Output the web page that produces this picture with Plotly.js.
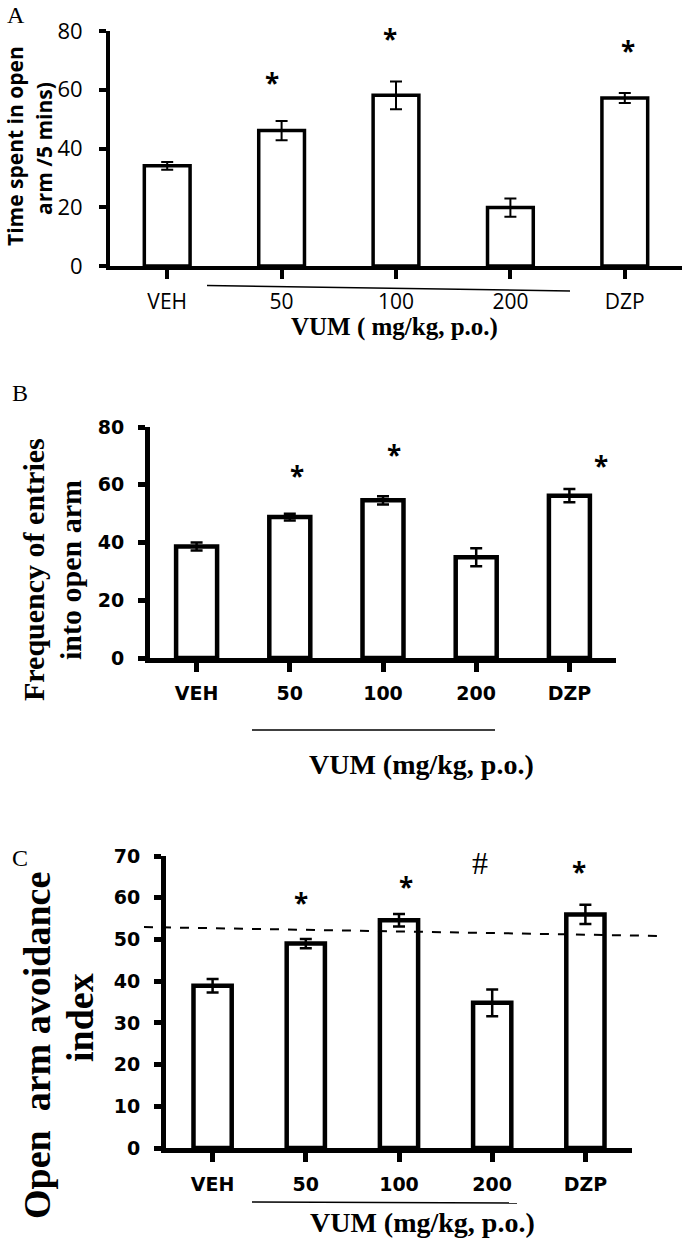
<!DOCTYPE html>
<html>
<head>
<meta charset="utf-8">
<script src="https://cdn.plot.ly/plotly-3.0.1.min.js"></script>
<style>html,body{margin:0;padding:0;background:#fff;} #chart{width:685px;height:1254px;}</style>
</head>
<body>
<div id="chart"></div>
<script>
// ---- data ----
const categories = ['VEH', '50', '100', '200', 'DZP'];

const timeOpen     = [34.1, 46.1, 58.1, 19.9, 57.2];
const timeOpenErr  = [1.3, 3.3, 4.7, 3.1, 1.7];
const sigA         = ['', '*', '*', '', '*'];
const sigAY        = [null, 64, 79, null, 75];

const entries      = [38.6, 48.8, 54.6, 34.9, 56.2];
const entriesErr   = [1.4, 1.2, 1.4, 3.1, 2.3];
const sigB         = ['', '*', '*', '', '*'];
const sigBY        = [null, 64.7, 72, null, 68.2];

const avoidance    = [38.9, 49.0, 54.6, 34.8, 56.0];
const avoidanceErr = [1.6, 1.1, 1.5, 3.2, 2.3];
const sigC         = ['', '*', '*', '#', '*'];
const sigCY        = [null, 60, 63.8, 68.3, 67.4];

const yTicksA = [0, 20, 40, 60, 80];
const yTicksB = [0, 20, 40, 60, 80];
const yTicksC = [0, 10, 20, 30, 40, 50, 60, 70];

// ---- layout helpers ----
const W = 685, H = 1254;
const px = v => v / W;
const py = v => 1 - v / H;
const idx = categories.map((c, i) => i);

function barTrace(vals, errs, xa, ya, lw, ew, bw) {
  return {
    type: 'bar', x: idx, y: vals, xaxis: xa, yaxis: ya, width: bw,
    marker: {color: '#ffffff', line: {color: '#000000', width: lw}},
    error_y: {type: 'data', array: errs, visible: true, color: '#000', thickness: ew, width: 6},
    cliponaxis: false, hoverinfo: 'skip', showlegend: false
  };
}

const data = [
  barTrace(timeOpen, timeOpenErr, 'x', 'y', 3.5, 2, 0.40),
  barTrace(entries, entriesErr, 'x2', 'y2', 4.5, 2.5, 0.44),
  barTrace(avoidance, avoidanceErr, 'x3', 'y3', 4.5, 2.5, 0.41)
];

function xAxis(domain, anchor, lw, font, standoff) {
  return {
    domain: domain, anchor: anchor, range: [-0.5, 4.5],
    tickmode: 'array', tickvals: idx, ticktext: categories, tickson: 'boundaries',
    ticks: 'outside', ticklen: 9, tickwidth: lw, tickcolor: '#000',
    showline: true, linecolor: '#000', linewidth: lw,
    showgrid: false, zeroline: false, tickfont: font, ticklabelstandoff: standoff,
    fixedrange: true
  };
}
function yAxis(domain, anchor, range, tickvals, lw, font, standoff) {
  return {
    domain: domain, anchor: anchor, range: range,
    tickmode: 'array', tickvals: tickvals,
    ticks: 'outside', ticklen: 7, tickwidth: lw, tickcolor: '#000',
    showline: true, linecolor: '#000', linewidth: lw,
    showgrid: false, zeroline: false, tickfont: font, ticklabelstandoff: standoff,
    fixedrange: true
  };
}

const fA = {family: 'Open Sans', size: 22, color: '#000'};
const fAx = {family: 'Open Sans', size: 21, color: '#000'};
const fB = {family: 'DejaVu Sans', size: 19, color: '#000', weight: 'bold'};

const annotations = [];
function sig(labels, ys, xa, ya, shifts, font, hashFont) {
  labels.forEach((t, i) => {
    if (!t) return;
    annotations.push({xref: xa, yref: ya, x: i, y: ys[i], text: t, showarrow: false,
      xanchor: 'center', yanchor: 'middle', xshift: shifts[i], yshift: t === '*' ? -5 : 0,
      font: t === '#' ? hashFont : font});
  });
}
const starFont = {family: 'Open Sans', size: 26, color: '#000', weight: 'bold'};
const hashFont = {family: 'Liberation Serif', size: 32, color: '#000'};
sig(sigA, sigAY, 'x', 'y', [0, -10, -6, 0, 3], starFont, hashFont);
sig(sigB, sigBY, 'x2', 'y2', [0, 7, 11, 0, 32], starFont, hashFont);
sig(sigC, sigCY, 'x3', 'y3', [0, -5, 7, -12, -6], starFont, hashFont);

function txt(x, y, text, font, angle) {
  annotations.push({xref: 'paper', yref: 'paper', x: px(x), y: py(y), text: text, showarrow: false,
    xanchor: 'center', yanchor: 'middle', textangle: angle || 0, font: font});
}
const serifB = s => ({family: 'Liberation Serif', size: s, color: '#000', weight: 'bold'});
const serif = s => ({family: 'Liberation Serif', size: s, color: '#000'});
const sansB = s => ({family: 'Open Sans', size: s, color: '#000', weight: 'bold'});

// panel letters
txt(16, 15, 'A', serif(24));
txt(20, 393, 'B', serif(24));
txt(20, 858, 'C', serif(24));

// y titles
txt(15, 146, 'Time spent in open', sansB(21), -90);
txt(44, 149, 'arm /5 mins)', sansB(21), -90);
txt(33, 570, 'Frequency of entries', serifB(30), -90);
txt(70, 570, 'into open arm', serifB(30), -90);
txt(37, 1046, 'Open\u00a0 arm avoidance', serifB(38), -90);
txt(80, 1018, 'index', serifB(38), -90);

// x titles
txt(394, 327, 'VUM ( mg/kg, p.o.)', serifB(25));
txt(421, 764, 'VUM (mg/kg, p.o.)', serifB(28));
txt(422, 1222, 'VUM (mg/kg, p.o.)', serifB(28));

const shapes = [
  {type: 'line', xref: 'paper', yref: 'paper', x0: px(207), y0: py(285.5), x1: px(570), y1: py(291), line: {color: '#000', width: 1.5}},
  {type: 'line', xref: 'paper', yref: 'paper', x0: px(252), y0: py(730), x1: px(495), y1: py(730), line: {color: '#000', width: 1.5}},
  {type: 'line', xref: 'paper', yref: 'paper', x0: px(252), y0: py(1202), x1: px(517), y1: py(1203), line: {color: '#000', width: 1.5}},
  {type: 'line', xref: 'paper', yref: 'paper', x0: px(144), y0: py(927), x1: px(661), y1: py(936), line: {color: '#000', width: 2, dash: 'dash'}}
];

const layout = {
  width: W, height: H, margin: {l: 0, r: 0, t: 0, b: 0},
  paper_bgcolor: '#fff', plot_bgcolor: 'rgba(0,0,0,0)', showlegend: false,
  xaxis:  xAxis([px(110), px(682)], 'y', 4, fAx, 5),
  yaxis:  yAxis([py(266), py(31)], 'x', [0, 80], yTicksA, 4, fA, 12),
  xaxis2: xAxis([px(150), px(616)], 'y2', 5, fB, 5),
  yaxis2: yAxis([py(658), py(427)], 'x2', [0, 80], yTicksB, 5, fB, 10),
  xaxis3: xAxis([px(166), px(632)], 'y3', 5, fB, 6),
  yaxis3: yAxis([py(1148), py(856)], 'x3', [0, 70], yTicksC, 5, fB, 10),
  annotations: annotations, shapes: shapes, bargap: 0
};

Plotly.newPlot('chart', data, layout, {staticPlot: true, displayModeBar: false});
</script>
</body>
</html>
